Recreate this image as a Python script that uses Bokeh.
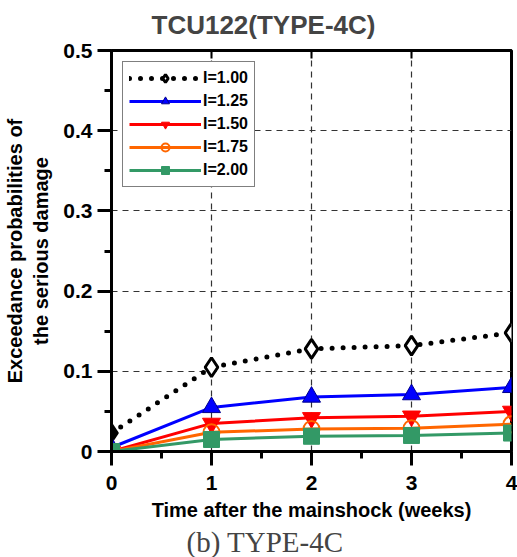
from bokeh.plotting import figure
from bokeh.models import (LinearAxis, Range1d, Title, Legend, LegendItem, FixedTicker)
from bokeh.embed import file_html
from bokeh.resources import INLINE

weeks = [0, 1, 2, 3, 4]
i100 = [0.023, 0.105, 0.128, 0.132, 0.148]
i125 = [0.005, 0.055, 0.068, 0.071, 0.080]
i150 = [0.0, 0.035, 0.042, 0.044, 0.050]
i175 = [0.0, 0.024, 0.028, 0.029, 0.034]
i200 = [0.0, 0.015, 0.019, 0.020, 0.023]
labels = ["I=1.00", "I=1.25", "I=1.50", "I=1.75", "I=2.00"]
title_text = "TCU122(TYPE-4C)"
caption_text = "(b) TYPE-4C"

FONT = "Liberation Sans"

p = figure(width=517, height=557, output_backend="svg", toolbar_location=None,
           x_range=Range1d(0, 4), y_range=Range1d(0, 0.5),
           min_border_left=110, min_border_right=6, min_border_top=50, min_border_bottom=106)
p.title = None
p.outline_line_color = "black"
p.outline_line_width = 3

# axes
xa = p.xaxis[0]
xa.ticker = FixedTicker(ticks=[0, 1, 2, 3, 4], minor_ticks=[0.5, 1.5, 2.5, 3.5])
xa.axis_label = "Time after the mainshock (weeks)"
ya = p.yaxis[0]
ya.ticker = FixedTicker(ticks=[0, 0.1, 0.2, 0.3, 0.4, 0.5],
                        minor_ticks=[0.05, 0.15, 0.25, 0.35, 0.45])
ya.axis_label = "Exceedance probabilities of\nthe serious damage"
ya.major_label_overrides = {0: "0"}
for ax in (xa, ya):
    ax.axis_line_width = 3
    ax.major_tick_line_width = 3
    ax.minor_tick_line_width = 3
    ax.major_tick_out = 14
    ax.major_tick_in = 0
    ax.minor_tick_out = 7
    ax.minor_tick_in = 0
    ax.major_label_text_font = FONT
    ax.major_label_text_font_style = "bold"
    ax.major_label_text_font_size = "21px"
    ax.major_label_text_color = "black"
    ax.axis_label_text_font = FONT
    ax.axis_label_text_font_style = "bold"
    ax.axis_label_text_font_size = "20px"
    ax.axis_label_text_color = "black"
xa.major_label_standoff = 10
xa.axis_label_standoff = 6
ya.major_label_standoff = 5
ya.axis_label_standoff = 8

top = LinearAxis(ticker=FixedTicker(ticks=[1, 2, 3]), major_label_text_font_size="0px",
                 major_tick_in=8, major_tick_out=0, minor_tick_in=0, minor_tick_out=0,
                 minor_tick_line_color=None,
                 axis_line_width=3, major_tick_line_width=2, major_label_standoff=0)
top.major_label_text_color = None
p.add_layout(top, "above")

# grid
p.xgrid.ticker = FixedTicker(ticks=[1, 2, 3])
p.ygrid.ticker = FixedTicker(ticks=[0.1, 0.2, 0.3, 0.4])
for g in (p.xgrid[0], p.ygrid[0]):
    g.grid_line_color = "#333333"
    g.grid_line_dash = "6 5"
    g.grid_line_width = 1.2

# series
l1 = p.line(weeks, i100, line_color="black", line_width=5, line_dash="0 11", line_cap="round")
m1 = p.scatter(weeks[1:], i100[1:], marker="diamond", size=19, fill_color="white",
               line_color="black", line_width=3)
m1b = p.scatter(weeks[:1], i100[:1], marker="diamond", size=19, fill_color="black",
                line_color="black", line_width=2)

l2 = p.line(weeks, i125, line_color="#0000ff", line_width=3)
m2 = p.scatter(weeks, i125, marker="triangle", size=18, fill_color="#0000ff",
               line_color="#00008b", line_width=1)

l3 = p.line(weeks, i150, line_color="#ff0000", line_width=3)
m3 = p.scatter(weeks, i150, marker="inverted_triangle", size=18, fill_color="#ff0000",
               line_color="#ff0000", line_width=1)

l4 = p.line(weeks, i175, line_color="#ff6600", line_width=3)
m4 = p.scatter(weeks, i175, marker="circle", size=16, fill_color=None,
               line_color="#ff6600", line_width=2)

l5 = p.line(weeks, i200, line_color="#339966", line_width=3)
m5 = p.scatter(weeks, i200, marker="square", size=16, fill_color="#339966",
               line_color="#339966", line_width=1)

legend = Legend(items=[
    LegendItem(label=labels[0], renderers=[l1, m1]),
    LegendItem(label=labels[1], renderers=[l2, m2]),
    LegendItem(label=labels[2], renderers=[l3, m3]),
    LegendItem(label=labels[3], renderers=[l4, m4]),
    LegendItem(label=labels[4], renderers=[l5, m5]),
], location="top_left")
legend.label_text_font = FONT
legend.label_text_font_style = "bold"
legend.label_text_font_size = "16px"
legend.label_text_color = "black"
legend.glyph_width = 72
legend.glyph_height = 20
legend.spacing = 3
legend.padding = 6
legend.margin = 11
legend.label_standoff = 2
legend.border_line_color = "black"
legend.border_line_width = 1
legend.background_fill_alpha = 1
p.add_layout(legend, "center")

# titles
p.add_layout(Title(text=title_text, align="left", text_font=FONT,
                   text_font_style="bold", text_font_size="26px", offset=40,
                   standoff=17, vertical_align="top"), "above")
p.add_layout(Title(text=caption_text, align="left", text_font="Liberation Serif",
                   text_font_style="normal", text_font_size="29px", offset=75,
                   standoff=0), "below")

open("out.html", "w").write(file_html(p, INLINE))
